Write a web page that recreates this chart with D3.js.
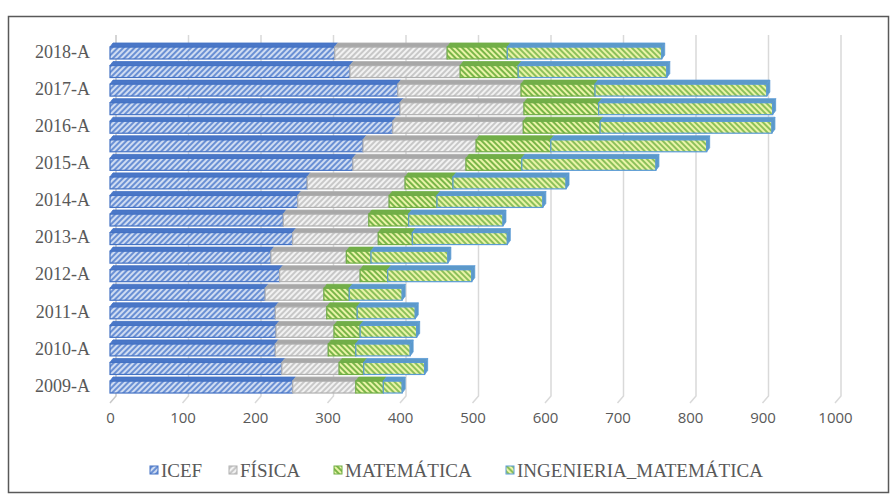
<!DOCTYPE html>
<html>
<head>
<meta charset="utf-8">
<script src="https://cdn.jsdelivr.net/npm/d3@7"></script>
<style>
  body { margin: 0; background: #fff; }
</style>
</head>
<body>
<div id="chart"></div>
<script>
var svgWidth = 890;
var svgHeight = 501;

// semesters, bottom to top as in the chart
var semesters = ["2009-A", "2009-B", "2010-A", "2010-B", "2011-A", "2011-B", "2012-A", "2012-B",
  "2013-A", "2013-B", "2014-A", "2014-B", "2015-A", "2015-B", "2016-A", "2016-B", "2017-A", "2017-B", "2018-A"];

var icef = [252, 237, 228, 229, 228, 214, 234, 222, 252, 239, 259, 272, 335, 349, 390, 400, 397, 331, 310];
var fisica = [87, 79, 73, 80, 71, 81, 111, 104, 118, 118, 126, 135, 156, 156, 180, 171, 170, 152, 155];
var matematica = [38, 34, 38, 36, 42, 35, 38, 34, 47, 55, 66, 66, 77, 103, 106, 103, 102, 80, 83];
var ingMatematica = [26, 84, 75, 78, 80, 73, 116, 106, 131, 130, 146, 156, 185, 215, 237, 240, 237, 205, 213];

var seriesNames = ["ICEF", "FÍSICA", "MATEMÁTICA", "INGENIERIA_MATEMÁTICA"];
var xTicks = [0, 100, 200, 300, 400, 500, 600, 700, 800, 900, 1000];

// styles per series
var styles = [
  { id: "pIcef", bg: "#cfdcf2", stripe: "#6a90d4", angle: 45, border: "#4472c4", top: "#4a77c7" },
  { id: "pFis", bg: "#f2f2f2", stripe: "#c8c8c8", angle: 45, border: "#b0b0b0", top: "#a8a8a8" },
  { id: "pMat", bg: "#eaf4a8", stripe: "#7ab648", angle: -45, border: "#70ad47", top: "#72ae48" },
  { id: "pIng", bg: "#eaf4a8", stripe: "#8cc05a", angle: -45, border: "#5b9bd5", top: "#5c99c9" }
];

var table = semesters.map(function(s, i) {
  return { sem: s, ICEF: icef[i], "FÍSICA": fisica[i], "MATEMÁTICA": matematica[i], "INGENIERIA_MATEMÁTICA": ingMatematica[i] };
});

var svg = d3.select("#chart")
  .append("svg")
  .attr("width", svgWidth)
  .attr("height", svgHeight)
  .style("font-family", "'Liberation Serif', 'Times New Roman', serif");

// hatch patterns
var defs = svg.append("defs");
styles.forEach(function(st) {
  var p = defs.append("pattern")
    .attr("id", st.id)
    .attr("patternUnits", "userSpaceOnUse")
    .attr("width", 4)
    .attr("height", 4)
    .attr("patternTransform", "rotate(" + st.angle + ")");
  p.append("rect").attr("width", 4).attr("height", 4).attr("fill", st.bg);
  p.append("rect").attr("width", 2).attr("height", 4).attr("fill", st.stripe);
});

// outer frame
svg.append("rect")
  .attr("x", 8.5)
  .attr("y", 16.5)
  .attr("width", 880)
  .attr("height", 476)
  .attr("fill", "none")
  .attr("stroke", "#595959")
  .attr("stroke-width", 1.5);

var xScale = d3.scaleLinear()
  .domain([0, 1000])
  .range([110, 835]);

var yScale = d3.scaleBand()
  .domain(semesters.slice().reverse())
  .range([42.7, 395.3]);

var depthX = 6, depthY = 7;  // back wall offset
var capX = 3, capY = 4;      // bar depth

// back wall gridlines with floor foot
var grid = svg.append("g");
xTicks.forEach(function(v) {
  var x = xScale(v);
  grid.append("path")
    .attr("d", "M" + (x + depthX) + ",35 L" + (x + depthX) + "," + (403 - depthY) + " L" + x + ",403")
    .attr("fill", "none")
    .attr("stroke", v === 0 ? "#c8c8c8" : "#d9d9d9")
    .attr("stroke-width", 1.5);
});

// x axis labels
var xAxis = svg.append("g")
  .attr("transform", "translate(0, 412)")
  .call(d3.axisBottom(xScale).tickValues(xTicks).tickFormat(d3.format("d")).tickSize(0).tickPadding(0));
xAxis.select(".domain").remove();
xAxis.selectAll("text")
  .attr("dy", "0.71em")
  .style("font-family", "'Open Sans', sans-serif")
  .style("font-size", "15px")
  .attr("fill", "#595959");

// y axis labels (A semesters only)
var yAxis = svg.append("g")
  .attr("transform", "translate(90, 0)")
  .call(d3.axisLeft(yScale)
    .tickValues(semesters.filter(function(s) { return s.slice(-1) === "A"; }))
    .tickSize(0).tickPadding(0));
yAxis.select(".domain").remove();
yAxis.selectAll("text")
  .style("font-family", "'Liberation Serif', serif")
  .style("font-size", "18px")
  .attr("fill", "#595959");

// stacked 3D bars
var stacked = d3.stack().keys(seriesNames)(table);

var barsGroup = svg.append("g");
table.forEach(function(d, i) {
  var c = yScale(d.sem) + yScale.bandwidth() / 2;
  var yF = c - 5, h = 12;
  var g = barsGroup.append("g");
  stacked.forEach(function(layer, k) {
    var st = styles[k];
    var x0 = xScale(layer[i][0]);
    var x1 = xScale(layer[i][1]);
    // front face
    g.append("rect")
      .attr("x", x0)
      .attr("y", yF)
      .attr("width", x1 - x0)
      .attr("height", h)
      .attr("fill", "url(#" + st.id + ")")
      .attr("stroke", st.border)
      .attr("stroke-width", 1.2);
    // top face
    g.append("path")
      .attr("d", "M" + x0 + "," + yF + " L" + (x0 + capX) + "," + (yF - capY) +
        " L" + (x1 + capX) + "," + (yF - capY) + " L" + x1 + "," + yF + "Z")
      .attr("fill", st.top)
      .attr("stroke", st.border)
      .attr("stroke-width", 0.8);
    // end cap on the last segment
    if (k === stacked.length - 1) {
      g.append("path")
        .attr("d", "M" + x1 + "," + yF + " L" + (x1 + capX) + "," + (yF - capY) +
          " L" + (x1 + capX) + "," + (yF + h - capY) + " L" + x1 + "," + (yF + h) + "Z")
        .attr("fill", st.top)
        .attr("stroke", st.border)
        .attr("stroke-width", 0.8);
    }
  });
});

// legend
var legendX = [150, 229, 334, 506];
var legend = svg.append("g")
  .attr("transform", "translate(0, 470)");
seriesNames.forEach(function(name, k) {
  var st = styles[k];
  legend.append("rect")
    .attr("x", legendX[k])
    .attr("y", -4)
    .attr("width", 8)
    .attr("height", 8)
    .attr("fill", "url(#" + st.id + ")")
    .attr("stroke", st.border)
    .attr("stroke-width", 1);
  legend.append("text")
    .attr("x", legendX[k] + 11)
    .attr("y", 0)
    .attr("dy", "0.35em")
    .style("font-size", "19px")
    .attr("fill", "#595959")
    .text(name);
});
</script>
</body>
</html>
